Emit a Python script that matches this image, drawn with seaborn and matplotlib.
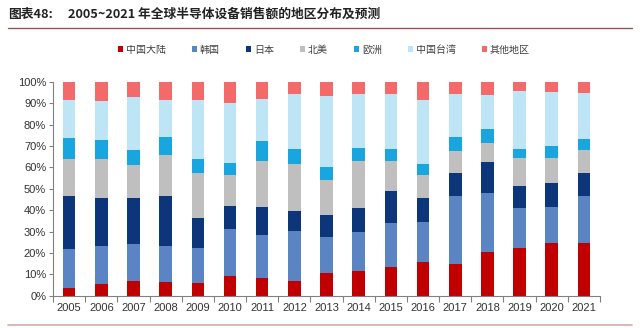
import numpy as np
import pandas as pd
import matplotlib
matplotlib.use("Agg")
import matplotlib.pyplot as plt
from matplotlib.patches import Patch
from matplotlib.lines import Line2D
from matplotlib.font_manager import FontProperties
import seaborn as sns

# Share of global semiconductor equipment sales by region (%)
years = [str(y) for y in range(2005, 2022)]
regions = ["中国大陆", "韩国", "日本", "北美", "欧洲", "中国台湾", "其他地区"]
china_mainland = [3.7, 5.6, 6.9, 6.5, 5.9, 9.2, 8.1, 6.9, 10.6, 11.7, 13.4, 15.7, 14.6, 20.2, 22.3, 24.6, 24.6]
korea = [18.1, 17.8, 17.4, 16.9, 16.5, 21.8, 20.2, 23.3, 16.7, 18.2, 20.7, 18.7, 31.8, 27.8, 18.7, 17.1, 21.8]
japan = [24.9, 22.2, 21.3, 23.3, 13.7, 10.9, 13.3, 9.4, 10.4, 11.2, 15.0, 11.1, 11.2, 14.3, 10.1, 10.8, 10.8]
north_america = [17.3, 18.4, 15.6, 19.2, 21.4, 14.5, 21.2, 21.9, 16.3, 21.8, 13.7, 10.9, 10.2, 9.2, 13.4, 12.1, 10.9]
europe = [9.8, 8.7, 6.7, 8.2, 6.2, 5.7, 9.6, 6.9, 6.3, 6.1, 5.6, 5.3, 6.2, 6.4, 4.0, 5.2, 5.3]
taiwan = [17.5, 18.3, 24.9, 17.2, 27.6, 28.2, 19.8, 26.0, 33.3, 25.4, 26.0, 29.7, 20.2, 16.0, 27.1, 25.4, 21.6]
others = [8.7, 9.0, 7.2, 8.7, 8.7, 9.7, 7.8, 5.6, 6.4, 5.6, 5.6, 8.6, 5.8, 6.1, 4.4, 4.8, 5.0]
ytick_labels = ["0%", "10%", "20%", "30%", "40%", "50%", "60%", "70%", "80%", "90%", "100%"]

colors = ["#C00000", "#5A84C2", "#0D3579", "#BFBFBF", "#19A6DF", "#BDE5F6", "#F26A6A"]

shares = pd.DataFrame(
    dict(zip(regions, [china_mainland, korea, japan, north_america, europe, taiwan, others])),
    index=years,
)
cumulative = shares.cumsum(axis=1)

sns.set_theme(style="white")
plt.rcParams["font.family"] = ["Liberation Sans", "Noto Sans CJK SC", "DejaVu Sans"]
cjk = ["Noto Sans CJK SC", "DejaVu Sans"]

fig = plt.figure(figsize=(6.4, 3.28), dpi=100)
ax = fig.add_axes([0.083, 0.0985, 0.8545, 0.652])

# Stacked bars: draw cumulative totals from the top layer down
for region, color in reversed(list(zip(regions, colors))):
    sns.barplot(x=years, y=cumulative[region].values, color=color, saturation=1,
                width=0.39, edgecolor="none", linewidth=0, ax=ax)

ax.set_xlim(-0.5, len(years) - 0.5)
ax.set_ylim(0, 100)
ax.set_yticks(np.arange(0, 101, 10))
ax.set_yticklabels(ytick_labels)
ax.set_xticks(np.arange(len(years)))
ax.set_xticklabels(years)
ax.set_xticks(np.arange(-0.5, len(years), 1), minor=True)
ax.tick_params(axis="x", which="major", length=0, pad=5, labelsize=8, labelcolor="#333333")
ax.tick_params(axis="x", which="minor", length=4, width=0.8, color="#808080", direction="out", bottom=True)
ax.tick_params(axis="y", length=3, width=0.8, color="#808080", direction="out", left=True,
               labelsize=8, labelcolor="#333333", pad=2)
ax.set_xlabel("")
ax.set_ylabel("")
for side in ["top", "right"]:
    ax.spines[side].set_visible(False)
for side in ["left", "bottom"]:
    ax.spines[side].set_color("#808080")
    ax.spines[side].set_linewidth(0.8)

handles = [Patch(facecolor=c, edgecolor="none") for c in colors]
leg = fig.legend(handles, regions, loc="center", bbox_to_anchor=(0.506, 0.848), ncol=7,
                 frameon=False, prop=FontProperties(family=cjk, size=7.2),
                 handlelength=0.55, handleheight=0.55, handletextpad=0.25, columnspacing=2.6)
for t in leg.get_texts():
    t.set_color("#404040")

# Header
fig.text(8 / 640, 1 - 14 / 328, "图表48:", family=cjk, fontsize=9.2, fontweight="bold",
         color="#222222", va="center", ha="left")
fig.text(68 / 640, 1 - 14 / 328, "2005~2021 年全球半导体设备销售额的地区分布及预测", family=cjk,
         fontsize=9.2, fontweight="bold", color="#222222", va="center", ha="left")
fig.add_artist(Line2D([8 / 640, 632 / 640], [1 - 28 / 328, 1 - 28 / 328], color="#8C5A5A", linewidth=1.0))
fig.add_artist(Line2D([8 / 640, 632 / 640], [1 - 325 / 328, 1 - 325 / 328], color="#D4A9A9", linewidth=1.2))

fig.savefig("out.png", dpi=100, facecolor="white")
